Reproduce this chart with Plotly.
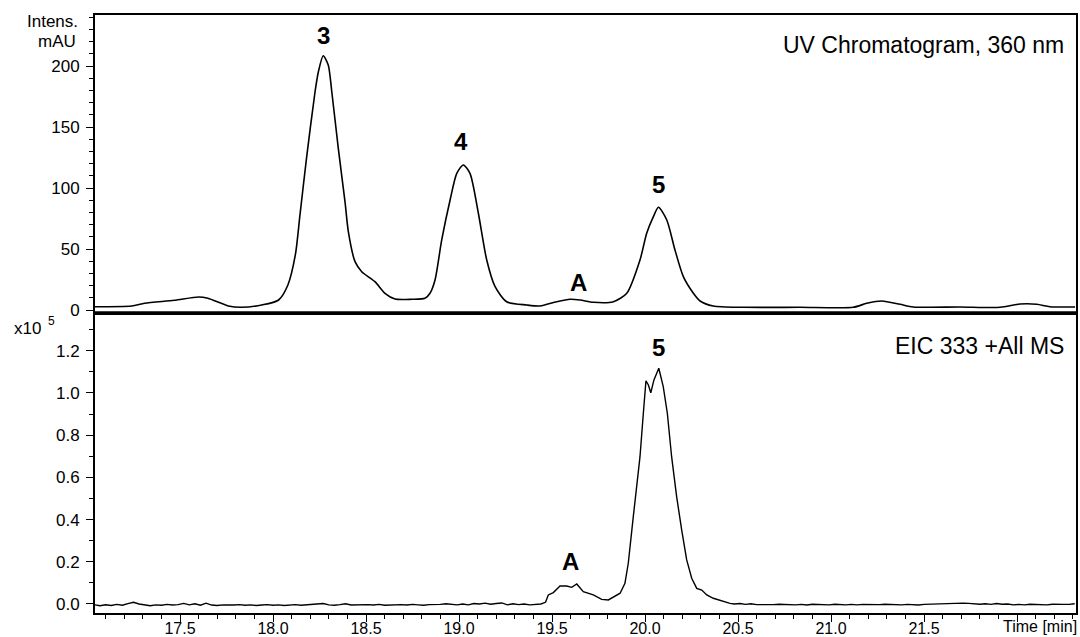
import plotly.graph_objects as go

# ---------------- data ----------------
# UV chromatogram 360 nm (time in min, intensity in mAU)
uv_t = [17.043, 17.24, 17.31, 17.47, 17.60, 17.65, 17.76, 17.83, 17.94, 18.03,
        18.08, 18.12, 18.145, 18.18, 18.226, 18.244, 18.27, 18.297, 18.316, 18.351,
        18.387, 18.405, 18.441, 18.477, 18.548, 18.602, 18.656, 18.746, 18.817, 18.844,
        18.871, 18.907, 18.952, 18.988, 19.023, 19.059, 19.104, 19.149, 19.194, 19.256,
        19.364, 19.435, 19.525, 19.597, 19.651, 19.722, 19.830, 19.902, 19.973, 20.009,
        20.045, 20.072, 20.117, 20.161, 20.206, 20.260, 20.296, 20.367, 20.528, 20.833,
        21.120, 21.192, 21.273, 21.371, 21.442, 21.694, 21.909, 22.016, 22.106, 22.177,
        22.312]
uv_mau = [2.7, 3.3, 5.5, 8.0, 10.7, 9.6, 3.3, 2.2, 4.1, 8.2,
          20.5, 45.1, 77.9, 124.3, 178.9, 195.3, 208.4, 200.8, 178.9, 132.5,
          88.8, 64.2, 39.6, 31.4, 23.2, 13.7, 9.0, 8.8, 9.6, 13.7,
          24.6, 57.4, 90.2, 112.0, 118.9, 112.0, 79.3, 41.0, 19.1, 6.8,
          4.1, 3.3, 6.8, 8.8, 8.2, 6.3, 6.8, 13.7, 41.0, 62.9,
          76.5, 84.2, 73.8, 49.2, 27.3, 13.7, 7.4, 3.3, 2.2, 2.2,
          2.2, 5.5, 7.4, 4.7, 2.5, 2.5, 2.2, 4.9, 4.7, 2.7,
          2.5]

# EIC 333 +All MS (time in min, intensity in 10^5 counts)
eic_t = [17.04, 17.07, 17.10, 17.13, 17.16, 17.19, 17.22, 17.25, 17.28, 17.31,
         17.34, 17.37, 17.40, 17.43, 17.46, 17.49, 17.52, 17.55, 17.58, 17.61,
         17.64, 17.67, 17.70, 17.73, 17.76, 17.79, 17.82, 17.85, 17.88, 17.91,
         17.94, 17.97, 18.00, 18.03, 18.06, 18.09, 18.12, 18.15, 18.18, 18.21,
         18.24, 18.27, 18.30, 18.33, 18.36, 18.39, 18.42, 18.45, 18.48, 18.51,
         18.54, 18.57, 18.60, 18.63, 18.66, 18.69, 18.72, 18.75, 18.78, 18.81,
         18.84, 18.87, 18.90, 18.93, 18.96, 18.99, 19.02, 19.05, 19.08, 19.11,
         19.14, 19.17, 19.20, 19.23, 19.26, 19.29, 19.32, 19.35, 19.38, 19.41,
         19.44, 19.465,
         19.480, 19.507, 19.543, 19.579, 19.606, 19.633, 19.668, 19.722, 19.767, 19.803,
         19.866, 19.892, 19.910, 19.937, 19.973, 19.991, 20.005, 20.018, 20.031, 20.048,
         20.074, 20.098, 20.120, 20.143, 20.170, 20.197, 20.224, 20.251, 20.278, 20.305,
         20.332, 20.367, 20.421, 20.457,
         20.48, 20.51, 20.54, 20.57, 20.60, 20.63, 20.66, 20.69, 20.72, 20.75,
         20.78, 20.81, 20.84, 20.87, 20.90, 20.93, 20.96, 20.99, 21.02, 21.05,
         21.08, 21.11, 21.14, 21.17, 21.20, 21.23, 21.26, 21.29, 21.32, 21.35,
         21.38, 21.41, 21.44, 21.47, 21.50, 21.53, 21.56, 21.59, 21.62, 21.65,
         21.68, 21.71, 21.74, 21.77, 21.80, 21.83, 21.86, 21.89, 21.92, 21.95,
         21.98, 22.01, 22.04, 22.07, 22.10, 22.13, 22.16, 22.19, 22.22, 22.25,
         22.28, 22.31]
eic_int = [-0.004, -0.008, -0.004, -0.007, -0.002, -0.006, 0.002, 0.008, 0.000, -0.003,
           -0.008, -0.004, -0.006, -0.002, -0.005, -0.003, 0.003, -0.004, 0.001, -0.006,
           0.004, -0.005, -0.007, -0.004, -0.006, -0.005, -0.003, -0.006, -0.004, -0.007,
           -0.005, -0.003, -0.006, -0.004, -0.007, -0.005, -0.003, -0.006, -0.004, -0.005,
           -0.003, 0.002, -0.004, -0.006, -0.003, 0.001, -0.005, -0.004, -0.006, -0.003,
           -0.005, -0.002, -0.006, -0.004, -0.005, -0.003, -0.005, -0.002, -0.004, -0.006,
           -0.003, -0.004, -0.002, 0.001, -0.003, -0.004, 0.000, -0.004, 0.002, 0.000,
           0.004, -0.001, 0.002, 0.005, -0.004, 0.001, -0.003, 0.000, -0.004, -0.002,
           0.000, 0.008,
           0.043, 0.054, 0.085, 0.085, 0.079, 0.095, 0.058, 0.043, 0.022, 0.019,
           0.051, 0.098, 0.193, 0.414, 0.698, 0.904, 1.058, 1.038, 1.001, 1.062,
           1.117, 1.030, 0.904, 0.698, 0.509, 0.351, 0.209, 0.122, 0.074, 0.066,
           0.043, 0.027, 0.011, 0.003,
           0.000, 0.002, -0.002, 0.001, -0.003, -0.004, -0.002, -0.003, -0.001, -0.003,
           -0.002, -0.004, -0.002, -0.005, -0.001, -0.003, -0.002, -0.004, -0.001, -0.003,
           -0.004, -0.002, -0.004, -0.002, -0.003, -0.004, -0.003, -0.001, -0.003, -0.002,
           -0.004, -0.002, -0.003, -0.005, -0.002, -0.001, 0.001, 0.000, 0.003, 0.004,
           0.005, 0.004, 0.003, 0.001, -0.001, 0.001, -0.002, 0.002, -0.001, 0.000,
           -0.004, -0.002, -0.004, -0.001, -0.003, -0.002, -0.004, -0.001, -0.003, -0.002,
           -0.002, 0.001]

x_major = [17.5, 18.0, 18.5, 19.0, 19.5, 20.0, 20.5, 21.0, 21.5, 22.0]
x_major_text = ["17.5", "18.0", "18.5", "19.0", "19.5", "20.0", "20.5", "21.0", "21.5", ""]
uv_ticks = [0, 50, 100, 150, 200]
uv_tick_text = ["0", "50", "100", "150", "200"]
eic_ticks = [0.0, 0.2, 0.4, 0.6, 0.8, 1.0, 1.2]
eic_tick_text = ["0.0", "0.2", "0.4", "0.6", "0.8", "1.0", "1.2"]

# peak labels: (text, time, intensity)
uv_labels = [("3", 18.27, 225), ("4", 19.01, 138.5), ("A", 19.64, 22.5), ("5", 20.07, 102.5)]
eic_labels = [("A", 19.597, 0.200), ("5", 20.075, 1.216)]

# ---------------- figure ----------------
FONT = "Liberation Sans, Arial, Helvetica, sans-serif"
split = 300 / 598

fig = go.Figure()
fig.add_trace(go.Scatter(x=uv_t, y=uv_mau, xaxis="x2", yaxis="y2", mode="lines",
                         line=dict(color="black", width=1.6, shape="spline", smoothing=0.7),
                         hoverinfo="skip"))
fig.add_trace(go.Scatter(x=eic_t, y=eic_int, xaxis="x", yaxis="y", mode="lines",
                         line=dict(color="black", width=1.4), hoverinfo="skip"))

xrange = [17.043, 22.317]
tickfont = dict(family=FONT, size=17, color="black")
xtickfont = dict(family=FONT, size=16, color="black")

fig.update_layout(
    template="none",
    width=1080, height=637,
    margin=dict(l=95, r=4, t=15, b=24, autoexpand=False),
    paper_bgcolor="white", plot_bgcolor="white",
    showlegend=False,
    xaxis=dict(domain=[0, 1], anchor="y", range=xrange, showline=True, linecolor="black",
               linewidth=2, mirror=False, ticks="outside", ticklen=7, tickwidth=1.2,
               tickcolor="black", tickmode="array", tickvals=x_major, ticktext=x_major_text,
               tickfont=xtickfont, showgrid=False, zeroline=False, automargin=False,
               ticklabelstandoff=-7,
               minor=dict(ticks="outside", ticklen=4, tickwidth=1.2, tickcolor="black",
                          tickmode="linear", tick0=17.0, dtick=0.1, showgrid=False)),
    yaxis=dict(domain=[0, split], anchor="x", range=[-0.0427, 1.379], showline=True,
               linecolor="black", linewidth=2, mirror=True, ticks="outside", ticklen=7,
               tickwidth=1.2, tickcolor="black", tickmode="array", tickvals=eic_ticks,
               ticktext=eic_tick_text, tickfont=tickfont, showgrid=False, zeroline=False,
               ticklabelstandoff=3, automargin=False,
               minor=dict(ticks="outside", ticklen=4, tickwidth=1.2, tickcolor="black",
                          tickmode="linear", tick0=0, dtick=0.1, showgrid=False)),
    xaxis2=dict(domain=[0, 1], anchor="y2", matches="x", range=xrange, showline=True,
                linecolor="black", linewidth=1.5, mirror=True, ticks="",
                showticklabels=False, showgrid=False, zeroline=False, automargin=False),
    yaxis2=dict(domain=[split, 1], anchor="x2", range=[-2.46, 241.8], showline=True,
                linecolor="black", linewidth=2, mirror=True, ticks="outside", ticklen=7,
                tickwidth=1.2, tickcolor="black", tickmode="array", tickvals=uv_ticks,
                ticktext=uv_tick_text, tickfont=tickfont, showgrid=False, zeroline=False,
                ticklabelstandoff=3, automargin=False,
                minor=dict(ticks="outside", ticklen=4, tickwidth=1.2, tickcolor="black",
                           tickmode="linear", tick0=0, dtick=10, showgrid=False)),
)

# thick separator between the two traces
fig.add_shape(type="line", xref="paper", yref="paper", x0=0, x1=1, y0=split, y1=split,
              line=dict(color="black", width=3.5))

annots = []
for txt, t, v in uv_labels:
    annots.append(dict(text="<b>%s</b>" % txt, x=t, y=v, xref="x2", yref="y2",
                       showarrow=False, xanchor="center", yanchor="middle",
                       font=dict(family=FONT, size=24, color="black")))
for txt, t, v in eic_labels:
    annots.append(dict(text="<b>%s</b>" % txt, x=t, y=v, xref="x", yref="y",
                       showarrow=False, xanchor="center", yanchor="middle",
                       font=dict(family=FONT, size=24, color="black")))

annots += [
    dict(text="UV Chromatogram, 360 nm", x=0.9898, y=0.9498, xref="paper", yref="paper",
         xanchor="right", yanchor="middle", showarrow=False,
         font=dict(family=FONT, size=23, color="black")),
    dict(text="EIC 333 +All MS", x=0.9898, y=0.4465, xref="paper", yref="paper",
         xanchor="right", yanchor="middle", showarrow=False,
         font=dict(family=FONT, size=23, color="black")),
    dict(text="Intens.", x=-0.0153, y=(613 - 22) / 598, xref="paper", yref="paper",
         xanchor="right", yanchor="middle", showarrow=False,
         font=dict(family=FONT, size=17, color="black")),
    dict(text="mAU", x=-0.0173, y=(613 - 42) / 598, xref="paper", yref="paper",
         xanchor="right", yanchor="middle", showarrow=False,
         font=dict(family=FONT, size=17, color="black")),
    dict(text="x10", x=(12 - 95) / 981, y=(613 - 328) / 598, xref="paper", yref="paper",
         xanchor="left", yanchor="middle", showarrow=False,
         font=dict(family=FONT, size=17, color="black")),
    dict(text="5", x=(46 - 95) / 981, y=(613 - 321) / 598, xref="paper", yref="paper",
         xanchor="left", yanchor="middle", showarrow=False,
         font=dict(family=FONT, size=12, color="black")),
    dict(text="Time [min]", x=(1079 - 95) / 981, y=(613 - 626) / 598, xref="paper",
         yref="paper", xanchor="right", yanchor="middle", showarrow=False,
         font=dict(family=FONT, size=16, color="black")),
]
fig.update_layout(annotations=annots)

fig.write_html("out.html")
